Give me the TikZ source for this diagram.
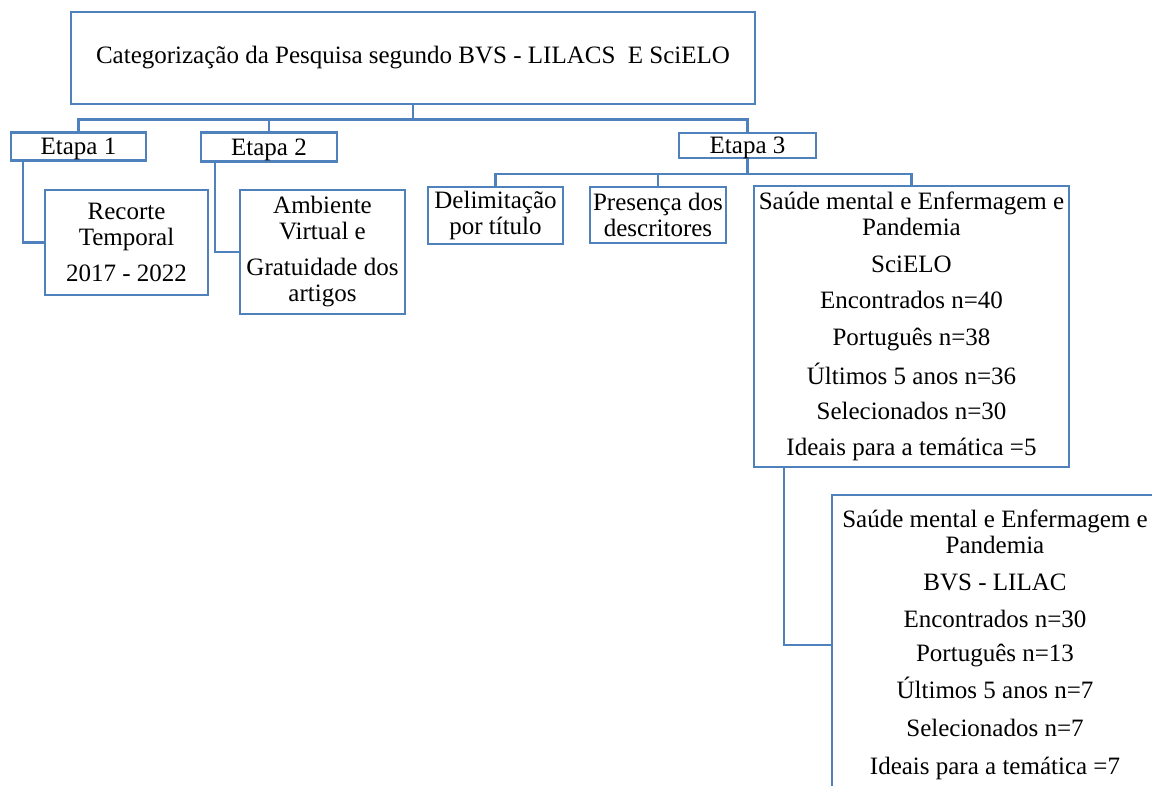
\documentclass[tikz,border=0pt]{standalone}
\usepackage{fontspec}
\setmainfont{Liberation Serif}
\definecolor{boxblue}{RGB}{79,129,189}
\tikzset{
  box/.style={draw=boxblue, line width=2.5pt, inner sep=0pt, align=center,
    font=\fontsize{25}{26}\selectfont},
  etapa/.style={box, text depth=0pt},
  link/.style={draw=boxblue, line width=2.5pt},
}

\begin{document}
\begin{tikzpicture}[x=1pt,y=-1pt]
\useasboundingbox (0,0) rectangle (1152,785);
\clip (0,0) rectangle (1152,785);

% title
\node[box, minimum width=684, minimum height=92] (top) at (413,58)
  {Categorização da Pesquisa segundo BVS - LILACS~ E SciELO};

% etapas
\node[etapa, minimum width=135, minimum height=28] (etapa1) at (78.5,146.5) {Etapa 1};
\node[etapa, minimum width=136, minimum height=29] (etapa2) at (269,147) {Etapa 2};
\node[etapa, minimum width=137, minimum height=25] (etapa3) at (747.5,145.5) {Etapa 3};

\node[box, minimum width=163, minimum height=105] (recorte) at (126.5,242.5)
  {Recorte\\Temporal\\[10pt]2017 - 2022};
\node[box, minimum width=165, minimum height=124] (ambiente) at (322.5,252)
  {Ambiente\\Virtual e\\[10pt]Gratuidade dos\\artigos};

\node[box, minimum width=135, minimum height=57] (delim) at (495.5,215.5)
  {Delimitação\\por título};
\node[box, minimum width=136, minimum height=56] (presenca) at (658,215)
  {Presença dos\\descritores};
\node[box, minimum width=315, minimum height=281] (scielo) at (911.5,326.5)
  {Saúde mental e Enfermagem e\\Pandemia\\[11pt]SciELO\\[10pt]Encontrados n=40\\[11pt]Português n=38\\[11pt]Últimos 5 anos n=36\\[9pt]Selecionados n=30\\[10pt]Ideais para a temática =5};
\node[box, minimum width=326, minimum height=300] (lilac) at (995,645)
  {Saúde mental e Enfermagem e\\Pandemia\\[11pt]BVS - LILAC\\[11pt]Encontrados n=30\\[8pt]Português n=13\\[9pt]Últimos 5 anos n=7\\[12pt]Selecionados n=7\\[12pt]Ideais para a temática =7};

% connectors
\draw[link] (top.south) -- ++(0,14) coordinate (bus);
\draw[link] (bus) -| (etapa1.north);
\draw[link] (bus) -| (etapa2.north);
\draw[link] (bus) -| (etapa3.north);

\draw[link] ([xshift=13pt]etapa1.south west) |- (recorte.west);
\draw[link] ([xshift=15pt]etapa2.south west) |- (ambiente.west);

\draw[link] (etapa3.south) -- ++(0,14.5) coordinate (bus3);
\draw[link] (bus3) -| (delim.north);
\draw[link] (bus3) -| (presenca.north);
\draw[link] (bus3) -| (scielo.north);

\draw[link] ([xshift=31pt]scielo.south west) |- (lilac.west);
\end{tikzpicture}
\end{document}
